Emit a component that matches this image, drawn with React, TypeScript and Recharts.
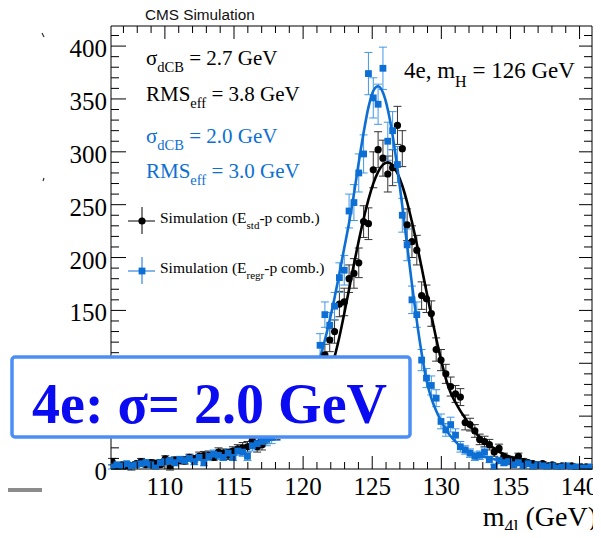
import React from 'react';
import { ComposedChart, XAxis, YAxis, Scatter, Line, ErrorBar } from 'recharts';

// bin centres (GeV)
const binCenters = [
  106.175, 106.525, 106.875, 107.225, 107.575, 107.925, 108.275, 108.625, 108.975, 109.325,
  109.675, 110.025, 110.375, 110.725, 111.075, 111.425, 111.775, 112.125, 112.475, 112.825,
  113.175, 113.525, 113.875, 114.225, 114.575, 114.925, 115.275, 115.625, 115.975, 116.325,
  116.675, 117.025, 117.375, 117.725, 118.075, 118.425, 118.775, 119.125, 119.475, 119.825,
  120.175, 120.525, 120.875, 121.225, 121.575, 121.925, 122.275, 122.625, 122.975, 123.325,
  123.675, 124.025, 124.375, 124.725, 125.075, 125.425, 125.775, 126.125, 126.475, 126.825,
  127.175, 127.525, 127.875, 128.225, 128.575, 128.925, 129.275, 129.625, 129.975, 130.325,
  130.675, 131.025, 131.375, 131.725, 132.075, 132.425, 132.775, 133.125, 133.475, 133.825,
  134.175, 134.525, 134.875, 135.225, 135.575, 135.925, 136.275, 136.625, 136.975, 137.325,
  137.675, 138.025, 138.375, 138.725, 139.075, 139.425, 139.775, 140.125, 140.475, 140.825,
];

// Simulation (E_std-p comb.)
const stdCounts = [
  7, 2, 4, 2, 1, 5, 7, 4, 6, 5,
  4, 9.5, 1, 8.5, 8, 7.6, 11, 9.5, 12, 12.6,
  13, 11, 16, 15, 13, 17, 19, 20, 21, 27,
  21, 23, 30, 33, 34, 38, 40, 47, 50, 53,
  58, 66, 74, 88, 108, 122, 130, 156, 158, 180,
  185, 195, 234, 232, 283, 302, 294, 279, 285, 325,
  303, 231, 215, 207, 164, 161, 147, 113, 103, 90,
  78, 71, 68, 44, 42, 36, 28, 26, 23, 16,
  19.5, 12, 9, 8.5, 12, 7, 6, 5, 4, 5,
  3, 4, 2, 3, 2, 3, 1, 2, 2, 1,
];
const stdErrors = [
  3, 2, 2, 2, 2, 2, 3, 2, 3, 2,
  2, 3, 2, 3, 3, 3, 3, 3, 4, 4,
  4, 3, 4, 4, 4, 4, 4, 5, 5, 5,
  5, 5, 6, 6, 6, 6, 6, 7, 7, 7,
  8, 8, 9, 9, 10, 11, 11, 12, 13, 13,
  14, 14, 15, 15, 17, 17, 17, 17, 17, 18,
  17, 15, 15, 14, 13, 13, 12, 11, 10, 9,
  9, 8, 8, 7, 6, 6, 5, 5, 5, 4,
  4, 3, 3, 3, 3, 3, 2, 2, 2, 2,
  2, 2, 1, 2, 1, 2, 1, 1, 1, 1,
];
const stdFit = [
  4.2, 4.5, 4.8, 5.1, 5.4, 5.8, 6.2, 6.6, 7.0, 7.5,
  8.0, 8.5, 9.0, 9.6, 10.2, 10.8, 11.4, 12.0, 12.7, 13.4,
  14.1, 14.9, 15.7, 16.6, 17.6, 18.7, 19.9, 21.2, 22.7, 24.3,
  26.0, 28.0, 30.2, 32.6, 35, 37.5, 40, 43, 46, 50,
  54, 59, 65, 72, 80, 91, 106, 125, 147, 170,
  193.7, 215.8, 236.5, 254.7, 269.9, 281.1, 287.9, 290, 287.2, 279.7,
  267.9, 252.3, 233.6, 212.8, 190.5, 167.8, 145.3, 123.7, 103.5, 85.5,
  72, 63, 55, 48, 41, 35, 30, 26, 22.5, 19.5,
  16.5, 14, 12, 10.3, 8.9, 7.7, 6.6, 5.7, 4.9, 4.2,
  3.6, 3.1, 2.7, 2.3, 2.0, 1.7, 1.5, 1.3, 1.1, 1.0,
];

// Simulation (E_regr-p comb.)
const regrCounts = [
  2, 4, 3, 5, 3, 4, 5, 6, 4, 1,
  6, 7, 8, 6, 9, 8, 10, 7, 11, 6,
  12, 14, 13, 11, 15, 11, 17, 16, 12, 22,
  24, 26, 28, 30, 33, 37, 41, 45, 52, 60,
  70, 80, 92, 117, 146, 136, 154, 181, 188, 244,
  252, 280, 298, 374, 351, 345, 379, 310, 320, 288,
  240, 212, 160, 146, 103, 86, 79, 67, 45, 37,
  42, 32, 21, 18, 15, 12, 13, 16, 9, 2,
  8, 6, 7, 4, 6, 3, 5, 2, 4, 3,
  2, 3, 1, 2, 3, 1, 2, 1, 1, 2,
];
const regrErrors = [
  2, 2, 2, 2, 2, 2, 2, 3, 2, 1,
  3, 3, 3, 3, 3, 3, 3, 3, 3, 3,
  4, 4, 4, 3, 4, 3, 4, 4, 4, 5,
  5, 5, 6, 6, 6, 6, 7, 7, 8, 8,
  9, 9, 10, 11, 12, 12, 13, 14, 14, 16,
  17, 18, 18, 20, 19, 19, 20, 18, 18, 17,
  16, 15, 13, 12, 10, 9, 9, 8, 7, 6,
  7, 6, 5, 4, 4, 4, 4, 4, 3, 2,
  3, 3, 3, 2, 3, 2, 2, 2, 2, 2,
  2, 2, 1, 2, 2, 1, 2, 1, 1, 2,
];
const regrFit = [
  3.9, 4.2, 4.5, 4.7, 5.0, 5.4, 5.8, 6.1, 6.5, 7.0,
  7.4, 7.9, 8.4, 8.9, 9.5, 10.0, 10.6, 11.2, 11.8, 12.5,
  13.1, 13.9, 14.6, 15.4, 16.4, 17.4, 18.5, 19.7, 21.1, 22.6,
  24.2, 26.0, 28.1, 30.3, 33, 36, 40, 44.5, 50, 57,
  66, 77, 90, 105, 122, 141, 162, 185, 209, 233,
  260, 290, 318, 342, 357.5, 362, 356, 340, 315.5, 284.3,
  248.8, 211.6, 174.7, 140.1, 109.5, 84, 67, 55, 45.5, 37.5,
  31, 26, 21.5, 18.5, 16, 14, 12.6, 11.4, 10.3, 9.3,
  8.4, 7.6, 6.9, 6.3, 5.7, 5.2, 4.7, 4.3, 3.9, 3.5,
  3.2, 2.9, 2.6, 2.4, 2.2, 2.0, 1.8, 1.6, 1.5, 1.4,
];

const xTicks = [
  107, 108, 109, 110, 111, 112, 113, 114, 115, 116, 117, 118, 119, 120, 121, 122, 123, 124,
  125, 126, 127, 128, 129, 130, 131, 132, 133, 134, 135, 136, 137, 138, 139, 140,
];
const xLabels = [110, 115, 120, 125, 130, 135, 140];
const yTicks = [
  0, 10, 20, 30, 40, 50, 60, 70, 80, 90, 100, 110, 120, 130, 140, 150, 160, 170, 180, 190, 200,
  210, 220, 230, 240, 250, 260, 270, 280, 290, 300, 310, 320, 330, 340, 350, 360, 370, 380, 390,
  400, 410,
];
const yMajor = [0, 50, 100, 150, 200, 250, 300, 350, 400];
// "50" sits entirely behind the overlay box in the reference
const yLabels = [0, 100, 150, 200, 250, 300, 350, 400];

const stdPts = binCenters.map((x, i) => ({ x, y: stdCounts[i], e: stdErrors[i] }));
const regrPts = binCenters.map((x, i) => ({ x, y: regrCounts[i], e: regrErrors[i] }));
const stdCurve = binCenters.map((x, i) => ({ x, y: stdFit[i] }));
const regrCurve = binCenters.map((x, i) => ({ x, y: regrFit[i] }));

const SERIF = "'Liberation Serif', 'Times New Roman', serif";
const SANS = "'Liberation Sans', Arial, sans-serif";
const BLUE = '#0d6fd3';
const BLUE_ERR = '#4197e6';

const BottomTick = (p: any) => {
  const v = p.payload.value;
  const major = xLabels.includes(v);
  return (
    <g>
      <line x1={p.x} x2={p.x} y1={p.y} y2={p.y - (major ? 13 : 7)} stroke="#000" strokeWidth={1} />
      {major && (
        <text x={p.x} y={p.y + 26} textAnchor="middle" fontFamily={SERIF} fontSize={25} fill="#000">
          {v}
        </text>
      )}
    </g>
  );
};
const TopTick = (p: any) => {
  const v = p.payload.value;
  const major = xLabels.includes(v);
  return <line x1={p.x} x2={p.x} y1={p.y} y2={p.y + (major ? 13 : 7)} stroke="#000" strokeWidth={1} />;
};
const LeftTick = (p: any) => {
  const v = p.payload.value;
  const major = yMajor.includes(v);
  return (
    <g>
      <line x1={p.x} x2={p.x + (major ? 15 : 8)} y1={p.y} y2={p.y} stroke="#000" strokeWidth={1} />
      {yLabels.includes(v) && (
        <text x={p.x - 4} y={p.y + 11} textAnchor="end" fontFamily={SERIF} fontSize={25} fill="#000">
          {v}
        </text>
      )}
    </g>
  );
};
const RightTick = (p: any) => {
  const v = p.payload.value;
  const major = yMajor.includes(v);
  return <line x1={p.x} x2={p.x - (major ? 13 : 8)} y1={p.y} y2={p.y} stroke="#000" strokeWidth={1} />;
};

const Dot = (p: any) => <circle cx={p.cx} cy={p.cy} r={3.6} fill="#000" />;
const Sq = (p: any) => <rect x={p.cx - 3.4} y={p.cy - 3.4} width={6.8} height={6.8} fill={BLUE} />;

export default function App() {
  return (
    <div style={{ position: 'relative', width: 585, height: 522 }}>
      <style>{'html,body{overflow:hidden}.recharts-surface,.recharts-wrapper{overflow:visible!important}'}</style>
      <ComposedChart width={585} height={522} margin={{ top: 17, right: 0, bottom: 60, left: 102 }}>
        <XAxis
          xAxisId={0}
          type="number"
          dataKey="x"
          domain={[106.1, 140.9]}
          allowDataOverflow
          ticks={xTicks}
          interval={0}
          height={1}
          tickSize={0}
          tickMargin={0}
          tickLine={false}
          axisLine={{ stroke: '#000' }}
          tick={(p: any) => <BottomTick {...p} />}
        />
        <XAxis
          xAxisId="top"
          orientation="top"
          type="number"
          dataKey="x"
          domain={[106.1, 140.9]}
          allowDataOverflow
          ticks={xTicks}
          interval={0}
          height={1}
          tickSize={0}
          tickMargin={0}
          tickLine={false}
          axisLine={{ stroke: '#000' }}
          tick={(p: any) => <TopTick {...p} />}
        />
        <YAxis
          yAxisId={0}
          type="number"
          domain={[0, 419]}
          allowDataOverflow
          ticks={yTicks}
          interval={0}
          width={1}
          tickSize={0}
          tickMargin={0}
          tickLine={false}
          axisLine={{ stroke: '#000' }}
          tick={(p: any) => <LeftTick {...p} />}
        />
        <YAxis
          yAxisId="r"
          orientation="right"
          type="number"
          domain={[0, 419]}
          allowDataOverflow
          ticks={yTicks}
          interval={0}
          width={1}
          tickSize={0}
          tickMargin={0}
          tickLine={false}
          axisLine={{ stroke: '#000' }}
          tick={(p: any) => <RightTick {...p} />}
        />
        <Line
          xAxisId="top"
          yAxisId="r"
          data={stdCurve}
          dataKey="y"
          stroke="none"
          dot={false}
          activeDot={false}
          isAnimationActive={false}
        />
        <Scatter xAxisId={0} yAxisId={0} data={stdPts} dataKey="y" shape={Dot} isAnimationActive={false}>
          <ErrorBar dataKey="e" direction="y" width={4} stroke="#333" strokeWidth={1} isAnimationActive={false} />
        </Scatter>
        <Scatter xAxisId={0} yAxisId={0} data={regrPts} dataKey="y" shape={Sq} isAnimationActive={false}>
          <ErrorBar dataKey="e" direction="y" width={4} stroke={BLUE_ERR} strokeWidth={1} isAnimationActive={false} />
        </Scatter>
        <Line
          xAxisId={0}
          yAxisId={0}
          data={stdCurve}
          dataKey="y"
          type="monotone"
          stroke="#000"
          strokeWidth={2.6}
          dot={false}
          activeDot={false}
          isAnimationActive={false}
        />
        <Line
          xAxisId={0}
          yAxisId={0}
          data={regrCurve}
          dataKey="y"
          type="monotone"
          stroke={BLUE}
          strokeWidth={2.6}
          dot={false}
          activeDot={false}
          isAnimationActive={false}
        />
      </ComposedChart>
      <svg
        width={601}
        height={538}
        style={{ position: 'absolute', left: -8, top: -8, pointerEvents: 'none', overflow: 'visible' }}
      >
        <text x={145} y={20} fontFamily={SANS} fontSize={15.3} fill="#111">CMS Simulation</text>
        <text x={146} y={65} fontFamily={SERIF} fontSize={21} fill="#000">
          σ<tspan fontSize={14.5} dy={7}>dCB</tspan><tspan dy={-7}> = 2.7 GeV</tspan>
        </text>
        <text x={146} y={101} fontFamily={SERIF} fontSize={21} fill="#000">
          RMS<tspan fontSize={14.5} dy={7}>eff</tspan><tspan dy={-7}> = 3.8 GeV</tspan>
        </text>
        <text x={146} y={143} fontFamily={SERIF} fontSize={21} fill={BLUE}>
          σ<tspan fontSize={14.5} dy={7}>dCB</tspan><tspan dy={-7}> = 2.0 GeV</tspan>
        </text>
        <text x={146} y={178} fontFamily={SERIF} fontSize={21} fill={BLUE}>
          RMS<tspan fontSize={14.5} dy={7}>eff</tspan><tspan dy={-7}> = 3.0 GeV</tspan>
        </text>
        <text x={404} y={78} fontFamily={SERIF} fontSize={23} fill="#000">
          4e, m<tspan fontSize={16} dy={9}>H</tspan><tspan dy={-9}> = 126 GeV</tspan>
        </text>
        {/* legend */}
        <line x1={128} x2={155} y1={221} y2={221} stroke="#000" strokeWidth={1} />
        <line x1={142} x2={142} y1={207} y2={234} stroke="#000" strokeWidth={1} />
        <circle cx={142} cy={221} r={3.6} fill="#000" />
        <text x={160} y={223} fontFamily={SERIF} fontSize={15.5} fill="#000">
          Simulation (E<tspan fontSize={11} dy={6}>std</tspan><tspan dy={-6}>-p comb.)</tspan>
        </text>
        <line x1={128} x2={155} y1={271} y2={271} stroke={BLUE} strokeWidth={1} />
        <line x1={142} x2={142} y1={257} y2={284} stroke={BLUE} strokeWidth={1} />
        <rect x={138.6} y={267.6} width={6.8} height={6.8} fill={BLUE} />
        <text x={160} y={273} fontFamily={SERIF} fontSize={15.5} fill="#000">
          Simulation (E<tspan fontSize={11} dy={6}>regr</tspan><tspan dy={-6}>-p comb.)</tspan>
        </text>
        {/* axis title */}
        <text x={597} y={526} textAnchor="end" fontFamily={SERIF} fontSize={28} fill="#000">
          m<tspan fontSize={18} dy={7}>4l</tspan><tspan dy={-7}> (GeV)</tspan>
        </text>
        {/* overlay box */}
        <rect x={12} y={357} width={398} height={80} rx={3} fill="#fff" stroke="#4b8ef6" strokeWidth={3.5} />
        <text
          x={32}
          y={423}
          fontFamily={SERIF}
          fontWeight="bold"
          fontSize={58}
          fill="#0b0bf2"
          textLength={355}
          lengthAdjust="spacingAndGlyphs"
        >
          4e: σ= 2.0 GeV
        </text>
        {/* stray marks and grey bar */}
        <line x1={42} y1={33} x2={44} y2={37} stroke="#333" strokeWidth={1.2} />
        <line x1={44} y1={178} x2={43} y2={181} stroke="#333" strokeWidth={1.2} />
        <rect x={0} y={488} width={42} height={4} fill="#8c8c8c" />
      </svg>
    </div>
  );
}
